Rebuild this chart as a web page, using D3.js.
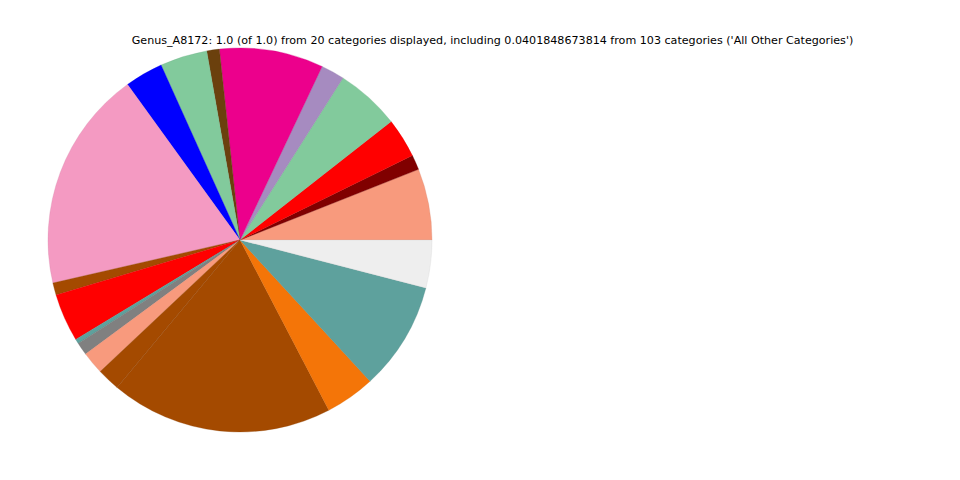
<!DOCTYPE html>
<html>
<head>
<meta charset="utf-8">
<script src="https://cdn.jsdelivr.net/npm/d3@7"></script>
<style>
html,body{margin:0;padding:0;background:#fff;}
svg{display:block;}
</style>
</head>
<body>
<script>
const titleText = "Genus_A8172: 1.0 (of 1.0) from 20 categories displayed, including 0.0401848673814 from 103 categories ('All Other Categories')";
const categories = ["c1","c2","c3","c4","c5","c6","c7","c8","c9","c10","c11","c12","c13","c14","c15","c16","c17","c18","c19","All Other Categories"];
const values = [0.0600,0.0125,0.0333,0.0542,0.0197,0.0875,0.0106,0.0397,0.0322,0.1864,0.0103,0.0403,0.0039,0.0108,0.0189,0.0192,0.1872,0.0419,0.0914,0.0401848673814];
const colors = ["#f89a7d","#800000","#ff0000","#82ca9c","#a68bc0","#ec008c","#6b400d","#82ca9c","#0000ff","#f49ac2","#a44a00","#ff0000","#5ea19d","#808080","#f89a7d","#a44a00","#a44a00","#f47508","#5ea19d","#eeeeee"];

const W = 960, H = 480;
const svg = d3.select("body").append("svg").attr("width", W).attr("height", H);

svg.append("text")
  .attr("x", 492.5).attr("y", 43.5)
  .attr("text-anchor", "middle")
  .attr("font-family", "DejaVu Sans, sans-serif")
  .attr("font-size", 11.12)
  .attr("fill", "#000")
  .text(titleText);

const cx = 240, cy = 240, R = 192;
const data = categories.map((c, i) => ({cat: c, value: values[i], color: colors[i]}));

// matplotlib: counterclockwise from 3 o'clock; d3: clockwise from 12 o'clock
const pie = d3.pie().value(d => d.value).sort(null)
  .startAngle(Math.PI / 2).endAngle(Math.PI / 2 - 2 * Math.PI);
const arc = d3.arc().innerRadius(0).outerRadius(R);

const g = svg.append("g").attr("transform", `translate(${cx},${cy})`);
g.selectAll("path").data(pie(data)).enter().append("path")
  .attr("d", arc)
  .attr("fill", d => d.data.color)
  .attr("stroke", d => d3.color(d.data.color).darker(0.4))
  .attr("stroke-width", 0.3);
</script>
</body>
</html>
